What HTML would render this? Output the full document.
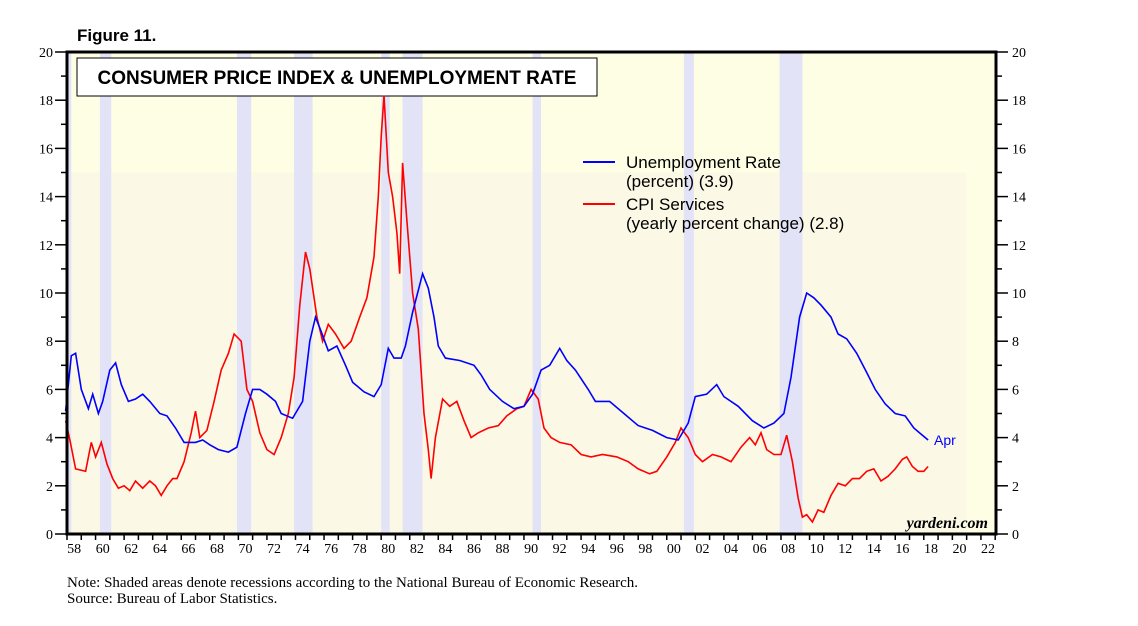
<!DOCTYPE html>
<html><head><meta charset="utf-8"><style>
body{margin:0;background:#fff;width:1138px;height:621px;overflow:hidden}
svg text{font-family:"Liberation Serif",serif}
</style></head><body>
<svg width="1138" height="621" id="c">
<text x="77" y="41" font-family="Liberation Sans" font-weight="bold" font-size="17" style="font-family:'Liberation Sans',sans-serif">Figure 11.</text>
<g id="plot"></g>
<text x="67" y="587" font-size="15">Note: Shaded areas denote recessions according to the National Bureau of Economic Research.</text>
<text x="67" y="603" font-size="15">Source: Bureau of Labor Statistics.</text>
</svg>
<script>
const recessions=[[1957.6,1958.3],[1960.3,1961.1],[1969.9,1970.9],[1973.9,1975.2],[1980.0,1980.6],[1981.5,1982.9],[1990.6,1991.2],[2001.2,2001.9],[2007.9,2009.5]];
const unempX=[1957.9,1958.3,1958.6,1959.0,1959.5,1959.8,1960.2,1960.5,1961.0,1961.4,1961.8,1962.3,1962.8,1963.3,1963.8,1964.5,1965.0,1965.6,1966.2,1967.0,1967.5,1968.0,1968.6,1969.3,1969.9,1970.5,1971.0,1971.5,1972.0,1972.6,1973.0,1973.8,1974.5,1975.0,1975.4,1975.8,1976.3,1976.9,1977.5,1978.0,1978.8,1979.5,1980.0,1980.5,1980.9,1981.4,1981.7,1982.2,1982.9,1983.3,1983.7,1984.0,1984.5,1985.5,1986.5,1987.0,1987.6,1988.5,1989.3,1990.0,1990.6,1991.2,1991.8,1992.5,1993.0,1993.6,1994.5,1995.0,1996.0,1997.0,1998.0,1999.0,2000.0,2000.8,2001.5,2002.0,2002.8,2003.5,2004.0,2005.0,2006.0,2006.8,2007.5,2008.2,2008.7,2009.3,2009.8,2010.3,2010.8,2011.5,2012.0,2012.6,2013.3,2014.0,2014.6,2015.3,2016.0,2016.7,2017.3,2017.9,2018.3];
const unempY=[5.1,7.4,7.5,6.0,5.2,5.8,5.0,5.5,6.8,7.1,6.2,5.5,5.6,5.8,5.5,5.0,4.9,4.4,3.8,3.8,3.9,3.7,3.5,3.4,3.6,5.0,6.0,6.0,5.8,5.5,5.0,4.8,5.5,8.0,9.0,8.4,7.6,7.8,7.0,6.3,5.9,5.7,6.2,7.7,7.3,7.3,7.8,9.2,10.8,10.2,9.0,7.8,7.3,7.2,7.0,6.6,6.0,5.5,5.2,5.3,5.8,6.8,7.0,7.7,7.2,6.8,6.0,5.5,5.5,5.0,4.5,4.3,4.0,3.9,4.6,5.7,5.8,6.2,5.7,5.3,4.7,4.4,4.6,5.0,6.5,9.0,10.0,9.8,9.5,9.0,8.3,8.1,7.5,6.7,6.0,5.4,5.0,4.9,4.4,4.1,3.9];
const cpiX=[1957.9,1958.2,1958.6,1959.3,1959.7,1960.0,1960.4,1960.8,1961.2,1961.6,1962.0,1962.4,1962.8,1963.3,1963.8,1964.2,1964.6,1965.0,1965.4,1965.7,1966.2,1966.7,1967.0,1967.3,1967.8,1968.3,1968.8,1969.3,1969.7,1970.2,1970.6,1971.0,1971.5,1972.0,1972.5,1973.0,1973.5,1973.9,1974.3,1974.7,1975.0,1975.5,1975.9,1976.3,1976.8,1977.4,1977.9,1978.5,1979.0,1979.5,1979.8,1980.0,1980.2,1980.5,1980.8,1981.1,1981.3,1981.5,1981.8,1982.2,1982.6,1983.0,1983.3,1983.5,1983.8,1984.3,1984.8,1985.3,1985.8,1986.3,1986.8,1987.5,1988.2,1988.8,1989.5,1990.0,1990.5,1991.0,1991.4,1991.9,1992.5,1993.3,1994.0,1994.7,1995.5,1996.5,1997.3,1998.0,1998.8,1999.3,2000.0,2000.6,2001.0,2001.5,2002.0,2002.5,2003.2,2003.8,2004.5,2005.2,2005.8,2006.2,2006.6,2007.0,2007.5,2008.0,2008.4,2008.8,2009.2,2009.5,2009.8,2010.2,2010.6,2011.0,2011.5,2012.0,2012.5,2013.0,2013.5,2014.0,2014.5,2015.0,2015.5,2016.0,2016.5,2016.8,2017.2,2017.6,2018.0,2018.3];
const cpiY=[4.7,3.9,2.7,2.6,3.8,3.2,3.8,2.9,2.3,1.9,2.0,1.8,2.2,1.9,2.2,2.0,1.6,2.0,2.3,2.3,3.0,4.2,5.1,4.0,4.3,5.5,6.8,7.5,8.3,8.0,6.0,5.5,4.2,3.5,3.3,4.0,5.0,6.5,9.5,11.7,11.0,9.0,8.0,8.7,8.3,7.7,8.0,9.0,9.8,11.5,14.0,16.5,18.2,15.0,14.0,12.5,10.8,15.4,13.0,10.0,8.5,5.0,3.5,2.3,4.0,5.6,5.3,5.5,4.7,4.0,4.2,4.4,4.5,4.9,5.2,5.3,6.0,5.6,4.4,4.0,3.8,3.7,3.3,3.2,3.3,3.2,3.0,2.7,2.5,2.6,3.2,3.8,4.4,4.0,3.3,3.0,3.3,3.2,3.0,3.6,4.0,3.7,4.2,3.5,3.3,3.3,4.1,3.0,1.5,0.7,0.8,0.5,1.0,0.9,1.6,2.1,2.0,2.3,2.3,2.6,2.7,2.2,2.4,2.7,3.1,3.2,2.8,2.6,2.6,2.8];
const yTicks=[0,2,4,6,8,10,12,14,16,18,20];
const xLabels=["58","60","62","64","66","68","70","72","74","76","78","80","82","84","86","88","90","92","94","96","98","00","02","04","06","08","10","12","14","16","18","20","22"];

const NS="http://www.w3.org/2000/svg";
const L=67,R=996,T=52,B=534;
const x=v=>L+(v-1958)*14.28;
const y=v=>B-v*(B-T)/20;
const g=document.getElementById('plot');
function mk(t,a,p){const e=document.createElementNS(NS,t);for(const k in a)e.setAttribute(k,a[k]);(p||g).appendChild(e);return e;}
let bg=mk('rect',{x:L,y:T,width:R-L,height:B-T,fill:'#fefee4'});


mk('rect',{x:L,y:y(15),width:x(2021)-L,height:B-y(15),fill:'#fbf9e6'});
recessions.forEach(r=>{
 const x0=Math.max(L,x(r[0]));
 const e=mk('rect',{x:x0,y:T,width:x(r[1])-x0,height:B-T,fill:'#e3e3f8'});
 
 
});
const tb=mk('rect',{x:77,y:58,width:520,height:38,fill:'#fff',stroke:'#000','stroke-width':1});


const tt=mk('text',{x:337,y:84,'text-anchor':'middle','font-size':19,'font-weight':'bold',style:"font-family:'Liberation Sans',sans-serif"});
tt.textContent='CONSUMER PRICE INDEX & UNEMPLOYMENT RATE';


function line(xs,ys,c,n){const d=xs.map((v,i)=>(i?'L':'M')+x(v).toFixed(1)+','+y(ys[i]).toFixed(1)).join('');
 const e=mk('path',{d,fill:'none',stroke:c,'stroke-width':1.6});
 
 }
line(cpiX,cpiY,'#f00','cpi-services-line');
line(unempX,unempY,'#00f','unemployment-line');
const apr=mk('text',{x:934,y:445,'font-size':14,fill:'#00f',style:"font-family:'Liberation Sans',sans-serif"});apr.textContent='Apr';


[['#00f','Unemployment Rate','(percent) (3.9)',162],['#f00','CPI Services','(yearly percent change) (2.8)',204]].forEach((l,i)=>{
 const e=mk('line',{x1:583,x2:615,y1:l[3],y2:l[3],stroke:l[0],'stroke-width':2});
 
 
 const t1=mk('text',{x:626,y:l[3]+6,'font-size':17,style:"font-family:'Liberation Sans',sans-serif"});t1.textContent=l[1];
 
 
 const t2=mk('text',{x:626,y:l[3]+25,'font-size':17,style:"font-family:'Liberation Sans',sans-serif"});t2.textContent=l[2];
 
 
});
const yd=mk('text',{x:988,y:528,'text-anchor':'end','font-size':16,'font-style':'italic','font-weight':'bold'});yd.textContent='yardeni.com';


mk('rect',{x:L,y:T,width:R-L,height:B-T,fill:'none',stroke:'#000','stroke-width':3});
for(let v=0;v<=20;v++){
 mk('line',{x1:L-(v%2?6:12),x2:L,y1:y(v),y2:y(v),stroke:'#000','stroke-width':1.5});
 mk('line',{x1:R,x2:R+(v%2?6:12),y1:y(v),y2:y(v),stroke:'#000','stroke-width':1.5});
}
yTicks.forEach(v=>{
 const a=mk('text',{x:53,y:y(v)+5,'text-anchor':'end','font-size':14});a.textContent=v;
 
 
 const b=mk('text',{x:1012,y:y(v)+5,'font-size':14});b.textContent=v;
 
 
});
for(let yr=1958;yr<=2023;yr++) mk('line',{x1:x(yr),x2:x(yr),y1:B,y2:B+6,stroke:'#000','stroke-width':1.5});
xLabels.forEach((s,i)=>{
 const e=mk('text',{x:x(1958+2*i+0.5),y:B+19,'text-anchor':'middle','font-size':14});e.textContent=s;
 
 
});
</script>
</body></html>
